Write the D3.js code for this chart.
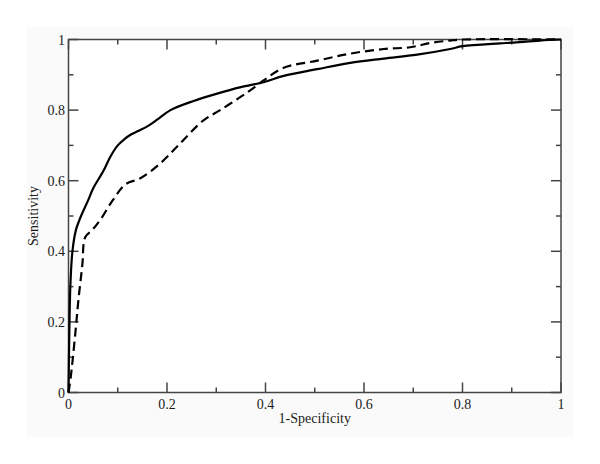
<!DOCTYPE html>
<html>
<head>
<meta charset="utf-8">
<script src="https://cdn.jsdelivr.net/npm/d3@7"></script>
<style>
  body { margin: 0; background: #fff; }
  text { font-family: "Liberation Serif", "Times New Roman", serif; fill: #1a1a1a; }
</style>
</head>
<body>
<div id="chart"></div>
<script>
var width = 600, height = 464;

// ROC curves
var solidX = [0, 0.002, 0.004, 0.008, 0.015, 0.024, 0.04, 0.05, 0.071, 0.085, 0.1, 0.113, 0.126, 0.14, 0.16, 0.18, 0.207, 0.254, 0.3, 0.35, 0.396, 0.437, 0.505, 0.572, 0.64, 0.708, 0.775, 0.8, 0.876, 0.9, 0.957, 1];
var solidY = [0, 0.2, 0.31, 0.4, 0.46, 0.495, 0.545, 0.578, 0.628, 0.668, 0.7, 0.717, 0.73, 0.74, 0.754, 0.773, 0.8, 0.826, 0.846, 0.865, 0.879, 0.897, 0.916, 0.934, 0.946, 0.957, 0.973, 0.981, 0.989, 0.991, 0.997, 1];

var dashX = [0, 0.004, 0.014, 0.02, 0.028, 0.034, 0.048, 0.065, 0.09, 0.116, 0.146, 0.187, 0.227, 0.274, 0.308, 0.35, 0.369, 0.396, 0.437, 0.505, 0.572, 0.64, 0.694, 0.734, 0.775, 0.8, 1];
var dashY = [0, 0.037, 0.17, 0.26, 0.36, 0.44, 0.46, 0.49, 0.545, 0.59, 0.607, 0.65, 0.706, 0.771, 0.8, 0.838, 0.856, 0.884, 0.92, 0.94, 0.96, 0.973, 0.978, 0.99, 0.997, 1, 1];

var majorTicks = [0, 0.2, 0.4, 0.6, 0.8, 1];
var minorTicks = [0.1, 0.3, 0.5, 0.7, 0.9];

var svg = d3.select("#chart").append("svg")
    .attr("width", width)
    .attr("height", height);

// faint grey page panel
svg.append("rect")
    .attr("x", 27).attr("y", 27)
    .attr("width", 546).attr("height", 410)
    .attr("fill", "#fafafa");

var x = d3.scaleLinear().domain([0, 1]).range([68.5, 561]);
var y = d3.scaleLinear().domain([0, 1]).range([392.5, 39.5]);

var fmt = function (d) { return d === 0 ? "0" : d === 1 ? "1" : d3.format(".1f")(d); };

svg.append("rect")
    .attr("x", x(0)).attr("y", y(1))
    .attr("width", x(1) - x(0)).attr("height", y(0) - y(1))
    .attr("fill", "#fff");

// inward ticks on all 4 sides
var frame = svg.append("g").attr("stroke", "#444").attr("stroke-width", 1.5);
function ticks(vals, len) {
    vals.forEach(function (v) {
        frame.append("line").attr("x1", x(v)).attr("x2", x(v)).attr("y1", y(0)).attr("y2", y(0) - len);
        frame.append("line").attr("x1", x(v)).attr("x2", x(v)).attr("y1", y(1)).attr("y2", y(1) + len);
        frame.append("line").attr("y1", y(v)).attr("y2", y(v)).attr("x1", x(0)).attr("x2", x(0) + len);
        frame.append("line").attr("y1", y(v)).attr("y2", y(v)).attr("x1", x(1)).attr("x2", x(1) - len);
    });
}
ticks(majorTicks, 10);
ticks(minorTicks, 5);

frame.append("rect")
    .attr("x", x(0)).attr("y", y(1))
    .attr("width", x(1) - x(0)).attr("height", y(0) - y(1))
    .attr("fill", "none");

svg.selectAll(".xl").data(majorTicks).enter().append("text")
    .attr("x", d => x(d)).attr("y", 409)
    .attr("text-anchor", "middle")
    .style("font-size", "14px")
    .text(fmt);

svg.selectAll(".yl").data(majorTicks).enter().append("text")
    .attr("x", 65).attr("y", d => y(d) + 5)
    .attr("text-anchor", "end")
    .style("font-size", "14px")
    .text(fmt);

svg.append("text")
    .attr("x", (x(0) + x(1)) / 2).attr("y", 423)
    .attr("text-anchor", "middle")
    .style("font-size", "14px")
    .text("1-Specificity");

svg.append("text")
    .attr("transform", "translate(38," + ((y(0) + y(1)) / 2) + ") rotate(-90)")
    .attr("text-anchor", "middle")
    .style("font-size", "14px")
    .text("Sensitivity");

var line = d3.line()
    .x(d => x(d[0]))
    .y(d => y(d[1]))
    .curve(d3.curveCatmullRom.alpha(0.5));

svg.append("path")
    .datum(d3.zip(solidX, solidY))
    .attr("d", line)
    .attr("fill", "none")
    .attr("stroke", "#000")
    .attr("stroke-width", 2.2);

svg.append("path")
    .datum(d3.zip(dashX, dashY))
    .attr("d", line)
    .attr("fill", "none")
    .attr("stroke", "#000")
    .attr("stroke-width", 2.2)
    .attr("stroke-dasharray", "9,5");
</script>
</body>
</html>
